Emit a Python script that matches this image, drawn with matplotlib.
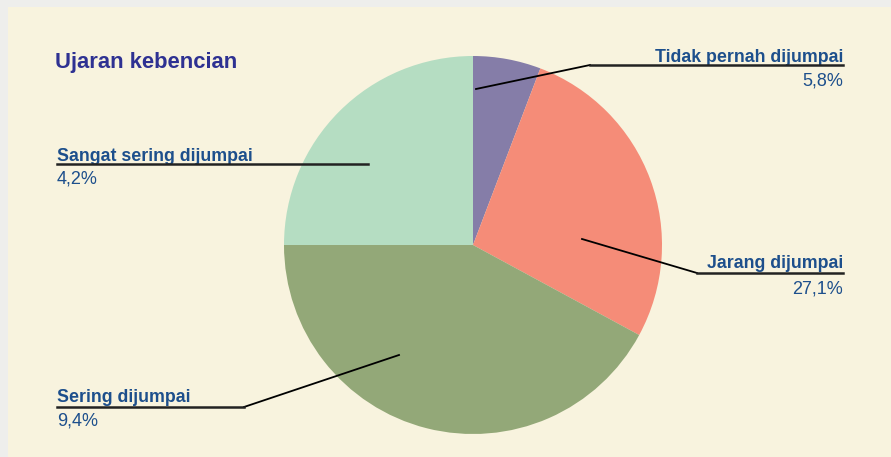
import matplotlib.pyplot as plt
from matplotlib.patches import Rectangle

# slice sizes as drawn in the picture (clockwise from the top)
kategori = ["Tidak pernah dijumpai", "Jarang dijumpai", "Sering dijumpai", "Sangat sering dijumpai"]
andel = [5.8, 27.1, 42.1, 25.0]
# percentages as printed on the labels
etikett = ["5,8%", "27,1%", "9,4%", "4,2%"]
farger = ["#857DA8", "#F58C78", "#93A878", "#B5DDC2"]
titel = "Ujaran kebencian"

W, H = 891, 457
FONT = ["Liberation Sans", "DejaVu Sans"]
LABEL_COLOR = "#1D4F8C"


def y(v):
    # image pixel row -> axes coordinate (y up)
    return H - v


fig = plt.figure(figsize=(W / 100, H / 100), dpi=100)
fig.patch.set_facecolor("#EEEEEC")
ax = fig.add_axes([0, 0, 1, 1])

ax.add_patch(Rectangle((8, 0), W - 8, y(7), facecolor="#F8F3DE", edgecolor="none", zorder=0))

ax.pie(andel, colors=farger, startangle=90, counterclock=False,
       center=(473, y(245)), radius=189, frame=True,
       wedgeprops=dict(linewidth=0, zorder=1))
ax.set_xlim(0, W)
ax.set_ylim(0, H)
ax.set_aspect("equal")
ax.axis("off")

ax.text(55, y(68), titel, fontsize=15.8, fontweight="bold", color="#2E3192",
        family=FONT, va="baseline", ha="left")

# label layout: (text x, align, name baseline, pct baseline, leader points)
layout = [
    (843, "right", 62, 85, [(476, 89), (590, 65), (843, 65)]),
    (843, "right", 268, 293, [(582, 239), (697, 273), (843, 273)]),
    (57, "left", 402, 426, [(399, 355), (244, 407), (57, 407)]),
    (57, "left", 161, 184, [(368, 164), (57, 164)]),
]

for namn, pct, (tx, ha, yb, yp, pts) in zip(kategori, etikett, layout):
    ax.text(tx, y(yb), namn, fontsize=12.8, fontweight="bold", color=LABEL_COLOR,
            family=FONT, ha=ha, va="baseline")
    ax.text(tx, y(yp), pct, fontsize=13, color=LABEL_COLOR,
            family=FONT, ha=ha, va="baseline")
    xs = [p[0] for p in pts]
    ys = [y(p[1]) for p in pts]
    ax.plot(xs[:-1], ys[:-1], color="black", linewidth=1.3, zorder=3)
    ax.plot(xs[-2:], ys[-2:], color="#222222", linewidth=1.8, zorder=3)

fig.savefig("out.png", dpi=100, facecolor=fig.get_facecolor())
